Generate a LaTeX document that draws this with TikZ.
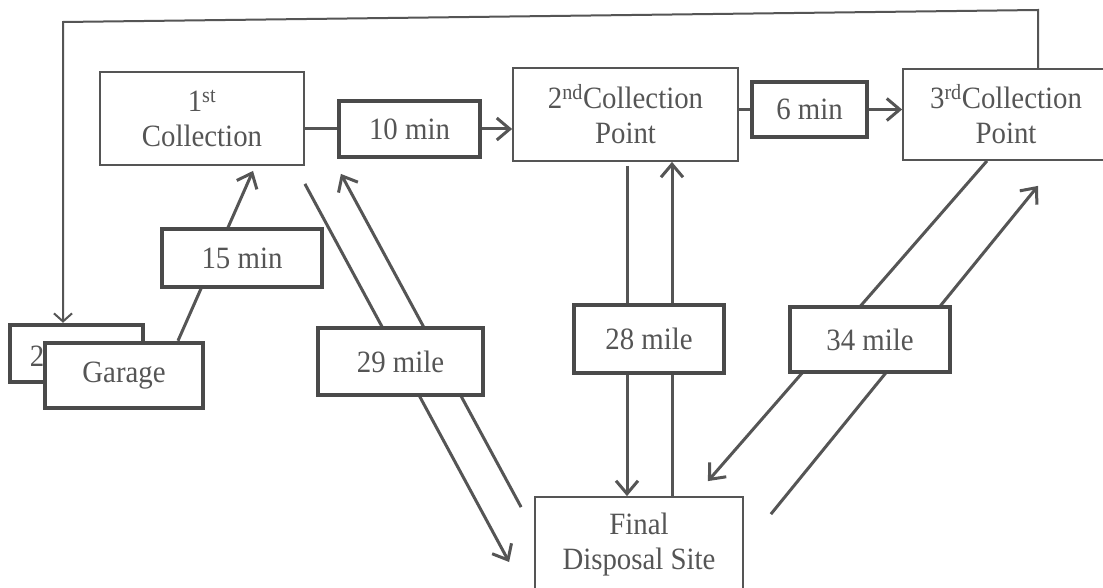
\documentclass[tikz,border=0pt]{standalone}
\usepackage{fontspec}
\setmainfont{Liberation Serif}[FakeStretch=0.93]
\usetikzlibrary{arrows.meta}
\pgfdeclarelayer{background}
\pgfsetlayers{background,main}
\definecolor{ink}{HTML}{555555}
\definecolor{frame}{HTML}{4A4A4A}

\begin{document}
\begin{tikzpicture}[x=1pt,y=-1pt,
  every node/.style={font=\fontsize{31}{35}\selectfont, text=ink, inner sep=0pt},
  place/.style={draw=ink, line width=1.8pt, fill=white, align=center},
  tag/.style={draw=frame, line width=4.5pt, fill=white},
  link/.style={draw=ink, line width=3pt},
  go/.style={link, -{Straight Barb[length=13pt,width=22pt,line width=3pt]}},
]
\useasboundingbox (0,0) rectangle (1103,588);

% stations
\node[place, minimum width=204pt, minimum height=93pt] (c1) at (202,118.5) {1\textsuperscript{st}\\Collection};
\node[place, minimum width=225pt, minimum height=93pt] (c2) at (625.5,114.5) {2\textsuperscript{nd}Collection\\Point};
\node[place, minimum width=206pt, minimum height=91pt] (c3) at (1006,114.5) {3\textsuperscript{rd}Collection\\Point};
\node[place, minimum width=208pt, minimum height=95pt] (final) at (639,544.5) {Final\\Disposal Site};

% time and distance tags
\node[tag, minimum width=141pt, minimum height=56pt] (m10) at (409.5,129) {10 min};
\node[tag, minimum width=115pt, minimum height=55pt] (m6) at (809.5,109.5) {6 min};
\node[tag, minimum width=160pt, minimum height=58pt] (m15) at (242,258) {15 min};
\node[tag, minimum width=133pt, minimum height=57pt] (b2) at (76.5,353.5) {};
\node[anchor=west] (b2t) at ([xshift=22pt,yshift=-3pt]b2.west) {2};
\node[tag, minimum width=158pt, minimum height=65pt] (garage) at (124,375.5) {Garage};
\node[tag, minimum width=165pt, minimum height=67pt] (m29) at (400.5,361.5) {29 mile};
\node[tag, minimum width=150pt, minimum height=68pt] (m28) at (649,339) {28 mile};
\node[tag, minimum width=160pt, minimum height=65pt] (m34) at (870,339.5) {34 mile};

\coordinate (rt) at (1038,10);
\coordinate (lt) at (63,22);
\coordinate (d28) at ([xshift=1.5pt,yshift=-4pt]c2.south);
\coordinate (u28) at ([xshift=33pt]final.north);
\coordinate (free29) at ([yshift=-18pt]c1.south east);
\coordinate (free34) at ([xshift=27pt,yshift=-18pt]final.north east);

\begin{pgfonlayer}{background}
\fill[white] (0,0) rectangle (1103,588);
% main route
\draw[link] (c1.east |- m10.west) -- (m10.west);
\draw[go] (m10.east) -- (m10.east -| c2.west);
\draw[link] (c2.east |- m6.west) -- (m6.west);
\draw[go] (m6.east) -- (m6.east -| c3.west);
\draw[go] ([xshift=54pt]garage.north) -- ([xshift=51pt,yshift=-5pt]c1.south);
% return to the garage
\draw[draw=ink, line width=2pt, -{Straight Barb[length=8pt,width=18pt,line width=2pt]}]
  (c3.north -| rt) -- (rt) -- (lt) -- (lt |- b2.north);
% trips to and from the disposal site
\draw[go] (free29) -- ([xshift=-25pt,yshift=-17.5pt]final.west);
\draw[go] ([xshift=-13pt,yshift=-11pt]final.north west) -- ([xshift=36pt,yshift=-8pt]c1.south east);
\draw[go] (d28) -- (d28 |- final.north);
\draw[go] (u28) -- (u28 |- c2.south);
\draw[go] ([xshift=-19pt]c3.south) -- ([xshift=-36pt,yshift=15pt]final.north east);
\draw[go] (free34) -- ([xshift=32pt,yshift=-25pt]c3.south);
\end{pgfonlayer}
\end{tikzpicture}
\end{document}
